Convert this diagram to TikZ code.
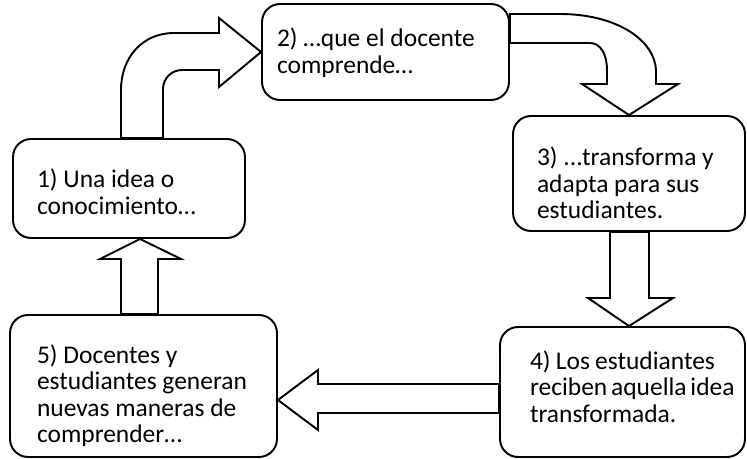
\documentclass[tikz,border=0pt]{standalone}
\usepackage{fontspec}
\setmainfont{Carlito}
\hyphenpenalty=10000
\tikzset{
 paso/.style={draw, line width=1.1pt, rounded corners=0.36cm, align=flush left, inner ysep=0pt, text height=0pt, font=\fontsize{14.5}{15.1}\selectfont},
 flecha/.style={draw, fill=white, line width=1.1pt, line join=miter}
}

\begin{document}
\begin{tikzpicture}[x=0.02cm, y=-0.02cm]
 	\useasboundingbox (0,0) rectangle (747,459);
 	\node[paso, minimum width=4.64cm, minimum height=1.98cm, text width=3.68cm, inner xsep=0.48cm, text depth=0.03cm] (idea) at (129,188.5) {1) Una idea o\\conocimiento…};
 	\node[paso, minimum width=4.94cm, minimum height=1.92cm, text width=4.34cm, inner xsep=0.30cm, text depth=0.21cm] (comprende) at (385.5,52) {2)~…que~el~docente\\comprende…};
 	\node[paso, minimum width=4.64cm, minimum height=2.30cm, text width=3.68cm, inner xsep=0.48cm, text depth=0.31cm] (transforma) at (629,173.5) {3)~...transforma~y\\adapta~para~sus\\estudiantes.};
 	\node[paso, minimum width=4.90cm, minimum height=2.60cm, text width=3.70cm, inner xsep=0.60cm, text depth=0.91cm] (reciben) at (622.5,392) {4)~Los~estudiantes\\reciben~aquella~idea\\transformada.};
 	\node[paso, minimum width=5.34cm, minimum height=2.84cm, text width=4.26cm, inner xsep=0.54cm, text depth=0.92cm] (generan) at (143.5,386) {5)~Docentes~y\\estudiantes~generan\\nuevas~maneras~de\\comprender…};
 	\draw[flecha] (121,0 |- idea.north) -- (121,90) .. controls (121,58) and (142,33) .. (174,33) -- (219,33) -- (219,18) -- (comprende.west) -- (219,87) -- (219,70) -- (182,70) .. controls (171.5,70) and (163,78.5) .. (163,89) -- (163,0 |- idea.north) -- cycle;
 	\draw[flecha] (comprende.east |- 0,14) -- (560,14) .. controls (616,14) and (656,40) .. (656,72) -- (656,84) -- (678,84) -- (transforma.north) -- (582,84) -- (607,84) -- (607,70) .. controls (607,55) and (601,43) .. (590,43) -- (comprende.east |- 0,43) -- cycle;
 	\draw[flecha] (610,0 |- transforma.south) -- (610,298) -- (588,298) -- (transforma.south |- reciben.north) -- (673,298) -- (649,298) -- (649,0 |- transforma.south) -- cycle;
 	\draw[flecha] (reciben.west |- 0,384) -- (318,384) -- (318,370) -- (generan.east |- 0,400) -- (318,430) -- (318,413) -- (reciben.west |- 0,413) -- cycle;
 	\draw[flecha] (121,0 |- generan.north) -- (121,259) -- (100,259) -- (140,0 |- idea.south) -- (181,259) -- (158,259) -- (158,0 |- generan.north) -- cycle;
\end{tikzpicture}
\end{document}
